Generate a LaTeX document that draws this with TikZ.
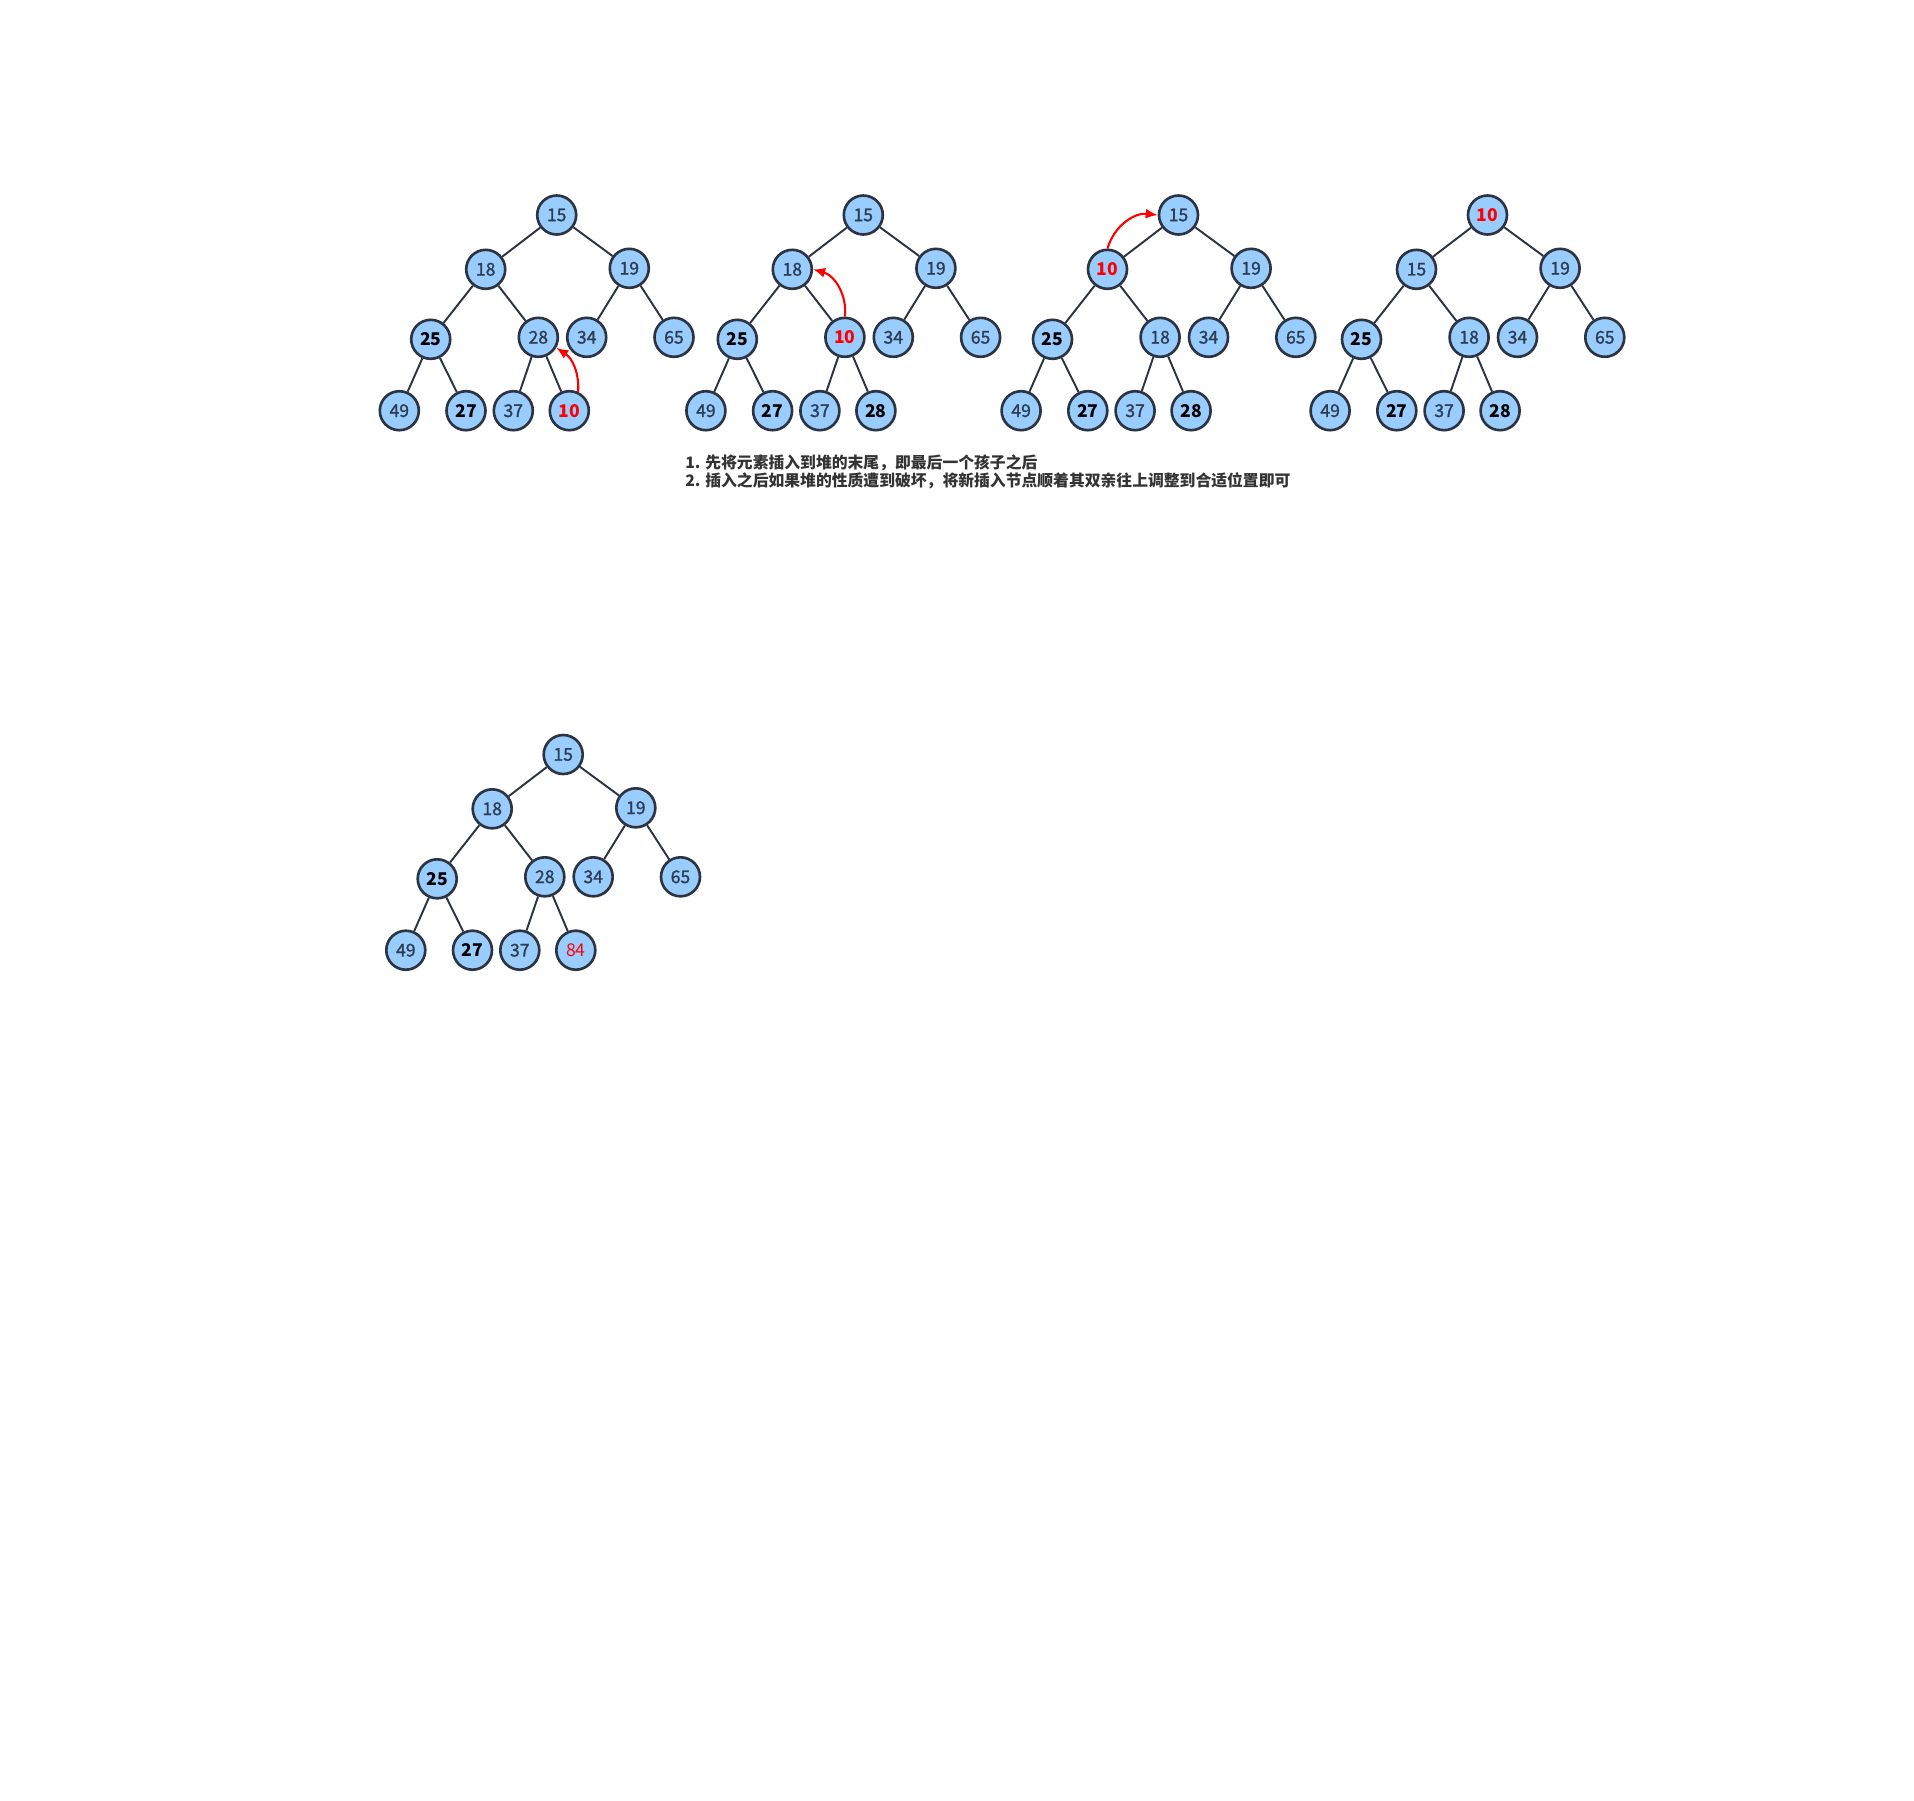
\documentclass[tikz,border=0pt]{standalone}
\usepackage{fontspec}
\setmainfont{Noto Sans CJK SC}
\newfontfamily\heapnum[FakeBold=1.3]{Noto Sans CJK SC}
\usetikzlibrary{arrows.meta}

\definecolor{heapfill}{HTML}{99CCFF}
\definecolor{heapline}{HTML}{2B3440}
\definecolor{numtext}{HTML}{2E3D4F}
\definecolor{notetext}{HTML}{333333}

\tikzset{
  hnode/.style={circle,draw=heapline,fill=heapfill,line width=1.5pt,minimum size=0.78cm,inner sep=0pt,text=numtext,font=\fontsize{10}{11}\selectfont\heapnum},
  hbold/.style={text=black,font=\fontsize{10}{11}\selectfont\bfseries},
  hnew/.style={text=red,font=\fontsize{10}{11}\selectfont\bfseries},
  hedge/.style={draw=heapline,line width=1.1pt},
  upmove/.style={red,line width=1.2pt,-{Latex[length=2.4mm,width=2mm]}},
  note/.style={anchor=west,text=notetext,inner sep=0pt,font=\fontsize{9}{11}\selectfont\bfseries}
}

\begin{document}
\begin{tikzpicture}[x=0.02cm,y=-0.02cm]
    \useasboundingbox (0,0) rectangle (1914,1800);
    % step 1: 10 appended after 28
    \node[hnode] at (556.7,215) (a1) {15};
    \node[hnode] at (485.7,269.3) (a2) {18};
    \node[hnode] at (629.3,268.3) (a3) {19};
    \node[hnode,hbold] at (430.7,339.3) (a4) {25};
    \node[hnode] at (538.3,337.3) (a5) {28};
    \node[hnode] at (586.7,337.3) (a6) {34};
    \node[hnode] at (674,337.3) (a7) {65};
    \node[hnode] at (399.3,410.7) (a8) {49};
    \node[hnode,hbold] at (466,410.7) (a9) {27};
    \node[hnode] at (513.3,410.7) (a10) {37};
    \node[hnode,hnew] at (569.3,410.7) (a11) {10};
    \draw[hedge] (a1) -- (a2) (a1) -- (a3) (a2) -- (a4) (a2) -- (a5) (a3) -- (a6) (a3) -- (a7)
        (a4) -- (a8) (a4) -- (a9) (a5) -- (a10) (a5) -- (a11);
    \draw[upmove] (a11.65) to[bend right=30] (a5.-30);

    % step 2
    \begin{scope}[shift={(306.6,0)}]
    \node[hnode] at (556.7,215) (b1) {15};
    \node[hnode] at (485.7,269.3) (b2) {18};
    \node[hnode] at (629.3,268.3) (b3) {19};
    \node[hnode,hbold] at (430.7,339.3) (b4) {25};
    \node[hnode,hnew] at (538.3,337.3) (b5) {10};
    \node[hnode] at (586.7,337.3) (b6) {34};
    \node[hnode] at (674,337.3) (b7) {65};
    \node[hnode] at (399.3,410.7) (b8) {49};
    \node[hnode,hbold] at (466,410.7) (b9) {27};
    \node[hnode] at (513.3,410.7) (b10) {37};
    \node[hnode,hbold] at (569.3,410.7) (b11) {28};
    \end{scope}
    \draw[hedge] (b1) -- (b2) (b1) -- (b3) (b2) -- (b4) (b2) -- (b5) (b3) -- (b6) (b3) -- (b7)
        (b4) -- (b8) (b4) -- (b9) (b5) -- (b10) (b5) -- (b11);
    \draw[upmove] (b5.90) to[bend right=40] (b2.0);

    % step 3
    \begin{scope}[shift={(621.8,0)}]
    \node[hnode] at (556.7,215) (c1) {15};
    \node[hnode,hnew] at (485.7,269.3) (c2) {10};
    \node[hnode] at (629.3,268.3) (c3) {19};
    \node[hnode,hbold] at (430.7,339.3) (c4) {25};
    \node[hnode] at (538.3,337.3) (c5) {18};
    \node[hnode] at (586.7,337.3) (c6) {34};
    \node[hnode] at (674,337.3) (c7) {65};
    \node[hnode] at (399.3,410.7) (c8) {49};
    \node[hnode,hbold] at (466,410.7) (c9) {27};
    \node[hnode] at (513.3,410.7) (c10) {37};
    \node[hnode,hbold] at (569.3,410.7) (c11) {28};
    \end{scope}
    \draw[hedge] (c1) -- (c2) (c1) -- (c3) (c2) -- (c4) (c2) -- (c5) (c3) -- (c6) (c3) -- (c7)
        (c4) -- (c8) (c4) -- (c9) (c5) -- (c10) (c5) -- (c11);
    \draw[upmove] (c2.90) to[bend left=40] (c1.180);

    % step 4: result
    \begin{scope}[shift={(930.8,0)}]
    \node[hnode,hnew] at (556.7,215) (d1) {10};
    \node[hnode] at (485.7,269.3) (d2) {15};
    \node[hnode] at (629.3,268.3) (d3) {19};
    \node[hnode,hbold] at (430.7,339.3) (d4) {25};
    \node[hnode] at (538.3,337.3) (d5) {18};
    \node[hnode] at (586.7,337.3) (d6) {34};
    \node[hnode] at (674,337.3) (d7) {65};
    \node[hnode] at (399.3,410.7) (d8) {49};
    \node[hnode,hbold] at (466,410.7) (d9) {27};
    \node[hnode] at (513.3,410.7) (d10) {37};
    \node[hnode,hbold] at (569.3,410.7) (d11) {28};
    \end{scope}
    \draw[hedge] (d1) -- (d2) (d1) -- (d3) (d2) -- (d4) (d2) -- (d5) (d3) -- (d6) (d3) -- (d7)
        (d4) -- (d8) (d4) -- (d9) (d5) -- (d10) (d5) -- (d11);

    \node[note] at (685,462.5) (step1) {1. 先将元素插入到堆的末尾，即最后一个孩子之后};
    \node[note] at (685,481) (step2) {2. 插入之后如果堆的性质遭到破坏，将新插入节点顺着其双亲往上调整到合适位置即可};

    % second example
    \begin{scope}[shift={(6.5,539.5)}]
    \node[hnode] at (556.7,215) (e1) {15};
    \node[hnode] at (485.7,269.3) (e2) {18};
    \node[hnode] at (629.3,268.3) (e3) {19};
    \node[hnode,hbold] at (430.7,339.3) (e4) {25};
    \node[hnode] at (538.3,337.3) (e5) {28};
    \node[hnode] at (586.7,337.3) (e6) {34};
    \node[hnode] at (674,337.3) (e7) {65};
    \node[hnode] at (399.3,410.7) (e8) {49};
    \node[hnode,hbold] at (466,410.7) (e9) {27};
    \node[hnode] at (513.3,410.7) (e10) {37};
    \node[hnode,text=red,font=\fontsize{10}{11}\selectfont] at (569.3,410.7) (e11) {84};
    \end{scope}
    \draw[hedge] (e1) -- (e2) (e1) -- (e3) (e2) -- (e4) (e2) -- (e5) (e3) -- (e6) (e3) -- (e7)
        (e4) -- (e8) (e4) -- (e9) (e5) -- (e10) (e5) -- (e11);
\end{tikzpicture}
\end{document}
